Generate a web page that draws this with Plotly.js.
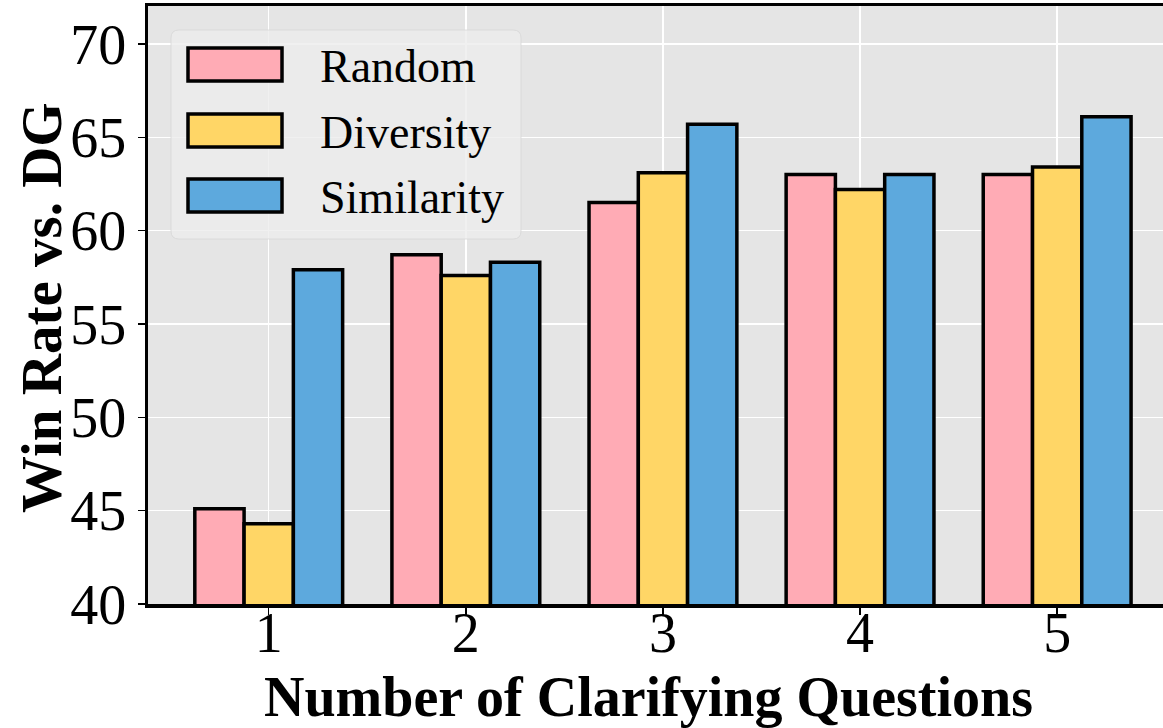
<!DOCTYPE html>
<html>
<head>
<meta charset="utf-8">
<script src="https://cdn.plot.ly/plotly-3.0.1.min.js"></script>
<style>html,body{margin:0;padding:0;background:#fff;}</style>
</head>
<body>
<div id="chart" style="width:1163px;height:728px;"></div>
<script>
const categories = [1, 2, 3, 4, 5];
const seriesNames = ["Random", "Diversity", "Similarity"];
const randomVals = [45.1, 58.7, 61.5, 63.0, 63.0];
const diversityVals = [44.3, 57.6, 63.1, 62.2, 63.4];
const similarityVals = [57.9, 58.3, 65.7, 63.0, 66.1];
const colors = ["#FFABB5", "#FFD666", "#5DA9DD"];
const yTicks = [40, 45, 50, 55, 60, 65, 70];

const allVals = [randomVals, diversityVals, similarityVals];
const traces = allVals.map((v, i) => ({
  type: "bar",
  x: categories,
  y: v,
  name: seriesNames[i],
  marker: {color: colors[i], line: {color: "#000", width: 3.5}},
  showlegend: false
}));

const L = 148, T = 6, W = 1015, H = 598;
const px = x => (x - L) / W;
const py = y => (T + H - y) / H;

const shapes = [];
const annotations = [];
// legend box with rounded corners
const bx0 = px(171), bx1 = px(521), by0 = py(239), by1 = py(30);
const rx = 8 / W, ry = 8 / H;
shapes.push({
  type: "path", xref: "paper", yref: "paper", layer: "above",
  path: `M ${bx0+rx},${by0} L ${bx1-rx},${by0} Q ${bx1},${by0} ${bx1},${by0+ry} L ${bx1},${by1-ry} Q ${bx1},${by1} ${bx1-rx},${by1} L ${bx0+rx},${by1} Q ${bx0},${by1} ${bx0},${by1-ry} L ${bx0},${by0+ry} Q ${bx0},${by0} ${bx0+rx},${by0} Z`,
  fillcolor: "rgba(236,236,236,0.8)",
  line: {color: "rgba(215,215,215,0.8)", width: 1}
});
const rowTops = [47, 113, 178];
seriesNames.forEach((n, i) => {
  shapes.push({
    type: "rect", xref: "paper", yref: "paper", layer: "above",
    x0: px(188), x1: px(282), y0: py(rowTops[i] + 34), y1: py(rowTops[i] + 1),
    fillcolor: colors[i], line: {color: "#000", width: 3.5}
  });
  annotations.push({
    xref: "paper", yref: "paper", x: px(318), y: py(rowTops[i] + 19),
    xanchor: "left", yanchor: "middle", showarrow: false, text: n,
    font: {family: "Liberation Serif, Times New Roman, serif", size: 46, color: "#000"}
  });
});
// axis titles
annotations.push({
  xref: "paper", yref: "paper", x: px(648), y: py(697),
  xanchor: "center", yanchor: "middle", showarrow: false,
  text: "<b>Number of Clarifying Questions</b>",
  font: {family: "Liberation Serif, Times New Roman, serif", size: 56, color: "#000"}
});
annotations.push({
  xref: "paper", yref: "paper", x: px(41), y: py(308),
  xanchor: "center", yanchor: "middle", showarrow: false, textangle: -90,
  text: "<b>Win Rate vs. DG</b>",
  font: {family: "Liberation Serif, Times New Roman, serif", size: 57, color: "#000"}
});

const layout = {
  width: 1163, height: 728,
  margin: {l: L, r: 1163 - L - W, t: T, b: 728 - T - H, pad: 0},
  paper_bgcolor: "#fff",
  plot_bgcolor: "#E5E5E5",
  barmode: "group",
  bargap: 0.25,
  bargroupgap: 0,
  showlegend: false,
  font: {family: "Liberation Serif, Times New Roman, serif", color: "#000"},
  xaxis: {
    range: [0.3875, 5.537],
    tickvals: categories,
    ticktext: categories.map(String),
    tickfont: {size: 56},
    ticklabelstandoff: -30,
    ticks: "outside", ticklen: 7, tickwidth: 1.5, tickcolor: "#000",
    showgrid: true, gridcolor: "#fff", gridwidth: 1.5,
    showline: true, linecolor: "#000", linewidth: 3.5, mirror: true,
    zeroline: false
  },
  yaxis: {
    range: [40, 72.03],
    tickvals: yTicks,
    tickfont: {size: 56},
    ticks: "outside", ticklen: 7, tickwidth: 1.5, tickcolor: "#000",
    showgrid: true, gridcolor: "#fff", gridwidth: 1.5,
    showline: true, linecolor: "#000", linewidth: 3.5,
    zeroline: false
  },
  shapes: shapes,
  annotations: annotations
};

Plotly.newPlot("chart", traces, layout, {displayModeBar: false, staticPlot: true});
</script>
</body>
</html>
